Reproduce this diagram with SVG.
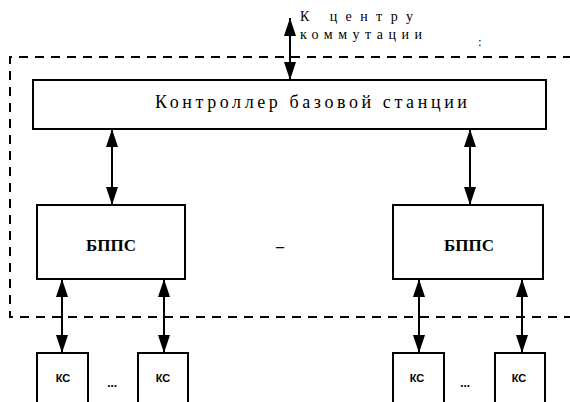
<svg xmlns="http://www.w3.org/2000/svg" width="570" height="402" viewBox="0 0 570 402">
<style>
.box{fill:#fff;stroke:#000;stroke-width:2}
.t{font-family:"Liberation Serif",serif;fill:#000}
.ln{stroke:#000;stroke-width:2;fill:none}
.dash{stroke:#000;stroke-width:2;fill:none;stroke-dasharray:9,7}
.ks{font-family:"Liberation Sans",sans-serif;font-size:11px;font-weight:bold;fill:#000}
</style>
<defs>
<marker id="ah" viewBox="0 0 18 12" refX="18" refY="6" markerWidth="18" markerHeight="12" markerUnits="userSpaceOnUse" orient="auto-start-reverse">
<path d="M0,0 L18,6 L0,12 Z" fill="#000"/>
</marker>
</defs>
<rect width="570" height="402" fill="#fff"/>
<path class="dash" d="M572,57 H10 V317 H572"/>
<g id="connectors">
<line class="ln" x1="290" y1="18" x2="290" y2="80" marker-start="url(#ah)" marker-end="url(#ah)"/>
<line class="ln" x1="112" y1="129" x2="112" y2="205" marker-start="url(#ah)" marker-end="url(#ah)"/>
<line class="ln" x1="470" y1="129" x2="470" y2="205" marker-start="url(#ah)" marker-end="url(#ah)"/>
<line class="ln" x1="62" y1="279" x2="62" y2="353" marker-start="url(#ah)" marker-end="url(#ah)"/>
<line class="ln" x1="164" y1="279" x2="164" y2="353" marker-start="url(#ah)" marker-end="url(#ah)"/>
<line class="ln" x1="419" y1="279" x2="419" y2="353" marker-start="url(#ah)" marker-end="url(#ah)"/>
<line class="ln" x1="522" y1="279" x2="522" y2="353" marker-start="url(#ah)" marker-end="url(#ah)"/>
</g>
<g id="label-center">
<text class="t" x="300" y="21" font-size="14" textLength="113" lengthAdjust="spacing">К центру</text>
<text class="t" x="300" y="39" font-size="14" textLength="122" lengthAdjust="spacing">коммутации</text>
<text class="t" x="478" y="46" font-size="13">:</text>
</g>
<g id="controller">
<rect class="box" x="33" y="80" width="513" height="49"/>
<text class="t" x="155" y="108" font-size="18" textLength="312" lengthAdjust="spacing">Контроллер базовой станции</text>
</g>
<g id="bpps1">
<rect class="box" x="37" y="205" width="148" height="74"/>
<text class="t" x="111" y="251" font-size="17" font-weight="bold" text-anchor="middle">БППС</text>
</g>
<text class="t" x="280" y="252" font-size="16" font-weight="bold" text-anchor="middle">–</text>
<g id="bpps2">
<rect class="box" x="393" y="205" width="150" height="74"/>
<text class="t" x="469" y="251" font-size="17" font-weight="bold" text-anchor="middle">БППС</text>
</g>
<g id="ks1">
<rect class="box" x="37" y="353" width="51" height="52"/>
<text class="ks" x="63" y="382" text-anchor="middle">КС</text>
</g>
<text class="t" x="112" y="387" font-size="13" font-weight="bold" text-anchor="middle">...</text>
<g id="ks2">
<rect class="box" x="138" y="353" width="50" height="52"/>
<text class="ks" x="163" y="382" text-anchor="middle">КС</text>
</g>
<g id="ks3">
<rect class="box" x="393" y="353" width="51" height="52"/>
<text class="ks" x="417" y="382" text-anchor="middle">КС</text>
</g>
<text class="t" x="465" y="387" font-size="13" font-weight="bold" text-anchor="middle">...</text>
<g id="ks4">
<rect class="box" x="495" y="353" width="50" height="52"/>
<text class="ks" x="519" y="382" text-anchor="middle">КС</text>
</g>
</svg>
